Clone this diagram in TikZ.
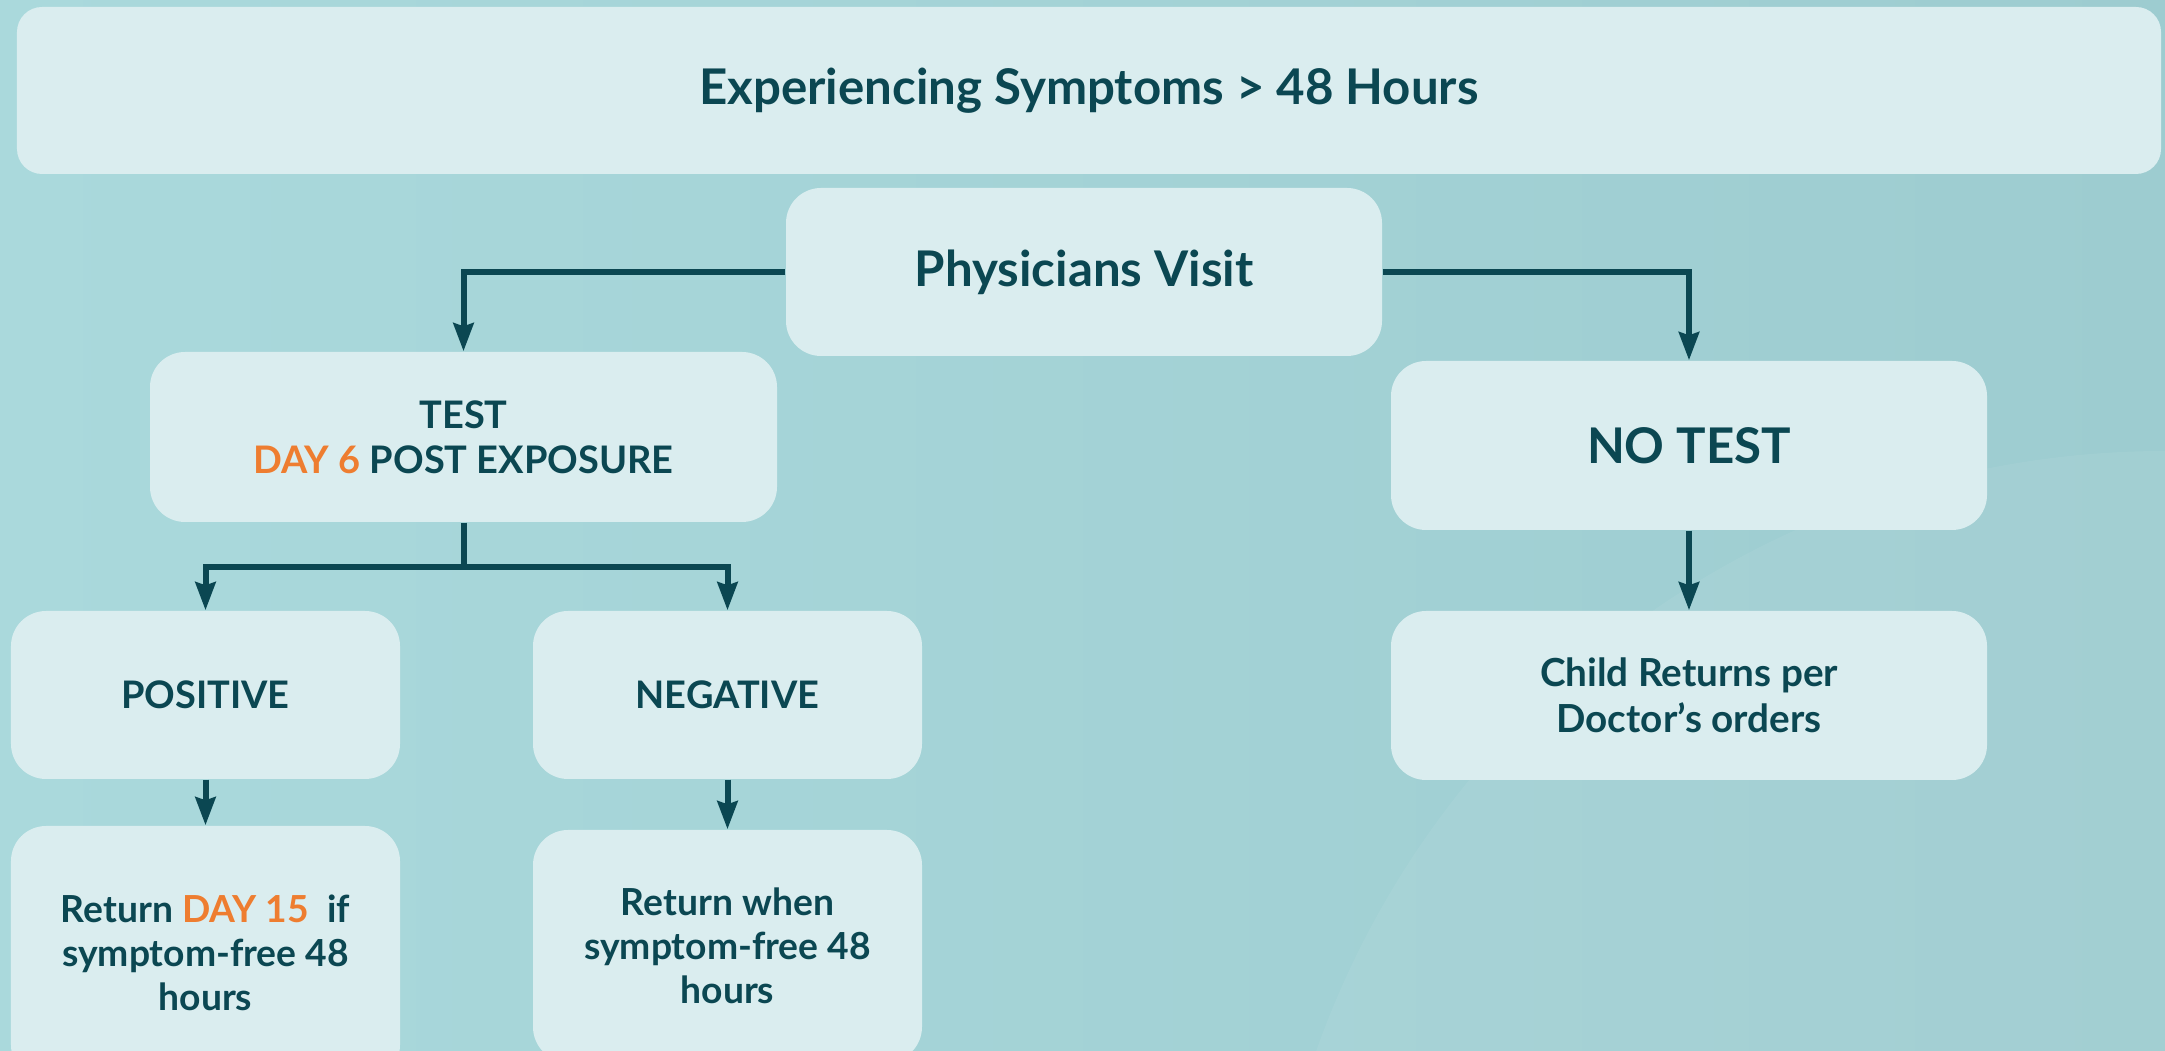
\documentclass[tikz,border=0pt]{standalone}
\usepackage{fontspec}
\setmainfont{Lato}
\usetikzlibrary{arrows.meta}
\definecolor{ink}{HTML}{0B4752}
\definecolor{accent}{HTML}{EE7D30}
\definecolor{boxfill}{HTML}{DAEDEF}
\definecolor{bgleft}{HTML}{AAD9DC}
\definecolor{bgright}{HTML}{9DCCD0}
\tikzset{
  box/.style={fill=boxfill, rounded corners=0.35cm, align=center, text=ink, inner sep=0pt, minimum width=3.89cm, minimum height=1.68cm},
  big/.style={font=\bfseries\fontsize{14}{16}\selectfont},
  small/.style={font=\bfseries\fontsize{10.8}{12.8}\selectfont},
  link/.style={draw=ink, line width=0.06cm},
  arr/.style={link, -{Stealth[length=0.28cm,width=0.2cm,inset=0.03cm]}}
}
\begin{document}
\begin{tikzpicture}
\useasboundingbox (0,0) rectangle (21.65,10.51);
\clip (0,0) rectangle (21.65,10.51);
\shade[left color=bgleft, right color=bgright] (0,0) rectangle (21.65,10.51);
\fill[white, opacity=0.06] (21.65,-3) circle (9);
\node[box, big, rounded corners=0.25cm, minimum width=21.44cm, minimum height=1.67cm] (symptoms) at (10.89,9.605) {Experiencing Symptoms > 48 Hours};
\node[box, big, minimum width=5.96cm] (visit) at (10.84,7.79) {Physicians Visit};
\node[box, small, minimum width=6.27cm, minimum height=1.70cm] (test) at (4.635,6.14) {TEST\\{\color{accent}DAY 6} POST EXPOSURE};
\node[box, big, minimum width=5.96cm, minimum height=1.69cm] (notest) at (16.89,6.055) {NO TEST};
\node[box, small] (pos) at (2.055,3.56) {POSITIVE};
\node[box, small] (neg) at (7.275,3.56) {NEGATIVE};
\node[box, small, font=\bfseries\fontsize{11}{13}\selectfont, minimum width=5.96cm, minimum height=1.69cm] (child) at (16.89,3.555) {Child Returns per\\Doctor’s orders};
\node[box, small, font=\bfseries\fontsize{10.6}{12.6}\selectfont, minimum height=2.54cm] (ret15) at (2.055,0.98) {Return {\color{accent}DAY 15}~ if\\symptom-free 48\\hours};
\node[box, small, font=\bfseries\fontsize{10.6}{12.6}\selectfont, minimum height=2.32cm] (retwhen) at (7.275,1.05) {Return when\\symptom-free 48\\hours};
\coordinate (split) at ([yshift=-0.44cm]test.south);
\draw[arr] (visit.west) -| (test.north);
\draw[arr] (visit.east) -| (notest.north);
\draw[link] (test.south) -- (split);
\draw[arr] (split) -| (pos.north);
\draw[arr] (split) -| (neg.north);
\draw[arr] (pos.south) -- (ret15.north);
\draw[arr] (neg.south) -- (retwhen.north);
\draw[arr] (notest.south) -- (child.north);
\end{tikzpicture}
\end{document}
